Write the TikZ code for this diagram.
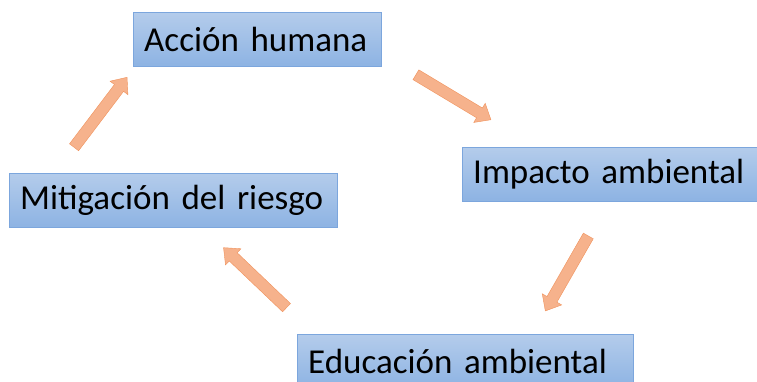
\documentclass[tikz,border=0pt]{standalone}
\usepackage{fontspec}
\setmainfont{Carlito}
\usetikzlibrary{shapes.arrows,calc}
\definecolor{boxtop}{RGB}{180,204,235}
\definecolor{boxbot}{RGB}{141,179,227}
\definecolor{boxline}{RGB}{124,166,221}
\definecolor{arrfill}{RGB}{246,178,140}
\definecolor{arrline}{RGB}{240,145,90}
\tikzset{
  stepbox/.style={draw=boxline, top color=boxtop, bottom color=boxbot, anchor=north west,
    minimum height=54pt, inner xsep=11pt, inner ysep=0pt, align=left,
    font=\fontsize{35}{40}\selectfont},
  blockarrow/.style={single arrow, draw=arrline, fill=arrfill, inner xsep=0pt, inner ysep=5.5pt,
    minimum width=22pt, single arrow head extend=5.5pt, single arrow tip angle=80,
    single arrow head indent=0pt}
}
\newcommand{\cyclearrow}[2]{%
  \path let \p1=($(#2)-(#1)$), \n1={atan2(\y1,\x1)}, \n2={veclen(\x1,\y1)} in
    node[blockarrow, rotate=\n1, minimum height=\n2] at ($(#1)!0.5!(#2)$) {};}

\begin{document}
\begin{tikzpicture}[x=1pt,y=1pt]
  \useasboundingbox (0,0) rectangle (757,381);
  % boxes
  \node[stepbox, text width=226pt] (accion) at (133,369) {Acción humana};
  \node[stepbox, text width=296pt] (impacto) at (462,234) {Impacto ambiental};
  \node[stepbox, text width=306pt] (mitigacion) at (9,208) {Mitigación del riesgo};
  \node[stepbox, text width=314pt] (educacion) at (297,47) {Educación ambiental};
  % arrow ends
  \coordinate (a1) at (72,231);  \coordinate (b1) at (125,301);
  \coordinate (a2) at (413,308); \coordinate (b2) at (488,263);
  \coordinate (a3) at (590,148); \coordinate (b3) at (547,73);
  \coordinate (a4) at (289,71);  \coordinate (b4) at (226,131);
  \cyclearrow{a1}{b1}
  \cyclearrow{a2}{b2}
  \cyclearrow{a3}{b3}
  \cyclearrow{a4}{b4}
\end{tikzpicture}
\end{document}
